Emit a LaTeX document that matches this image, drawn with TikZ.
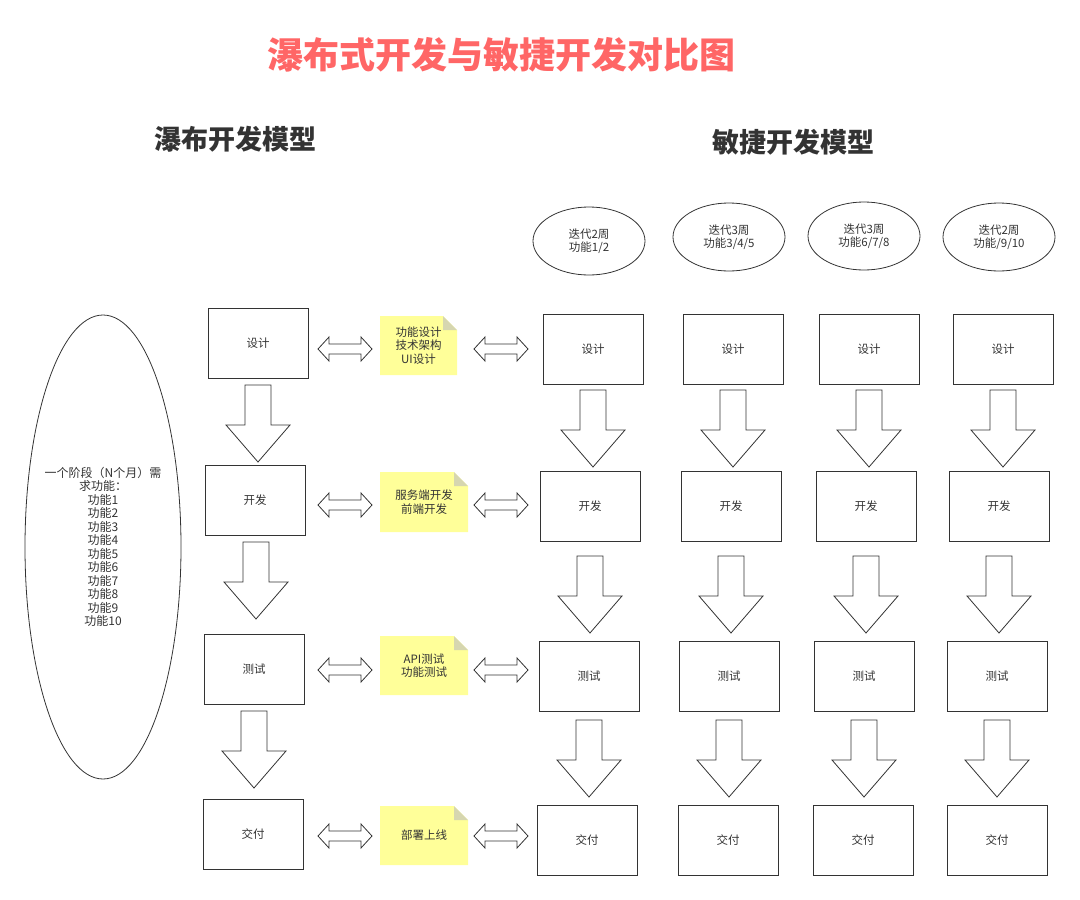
\documentclass[tikz,border=0pt]{standalone}
\usepackage{fontspec}
\setmainfont{Noto Sans CJK SC}
\definecolor{titlered}{HTML}{FF6666}
\definecolor{notefill}{HTML}{FFFF99}
\definecolor{notefold}{HTML}{D6D6B0}
\definecolor{linegray}{HTML}{333333}
\tikzset{
  box/.style={draw=linegray,thick,minimum width=100pt,minimum height=70pt,text=linegray,font=\fontsize{11.5}{13}\selectfont},
  iter/.style={draw=linegray,thick,ellipse,minimum width=112pt,minimum height=68pt,align=center,text=linegray,font=\fontsize{11.5}{13.5}\selectfont},
  notetext/.style={align=center,text=linegray,font=\fontsize{11.5}{13.5}\selectfont},
  pics/downarr/.style={code={
    \draw[linegray,thick,fill=white] (-13,0) -- (13,0) -- (13,40) -- (32,40) -- (0,77) -- (-32,40) -- (-13,40) -- cycle;}},
  pics/dblarr/.style={code={
    \draw[linegray,thick,fill=white] (-27,0) -- (-16,-12) -- (-16,-5) -- (16,-5) -- (16,-12) -- (27,0) -- (16,12) -- (16,5) -- (-16,5) -- (-16,12) -- cycle;}},
}
\usetikzlibrary{shapes.geometric}
\begin{document}
\begin{tikzpicture}[x=1pt,y=-1pt]
\useasboundingbox (0,0) rectangle (1080,900);
% titles
\node[text=titlered,font=\fontsize{36}{40}\selectfont\bfseries] (title) at (501,55) {瀑布式开发与敏捷开发对比图};
\node[text=linegray,font=\fontsize{27}{30}\selectfont\bfseries] (wtitle) at (235,139) {瀑布开发模型};
\node[text=linegray,font=\fontsize{27}{30}\selectfont\bfseries] (atitle) at (793,142) {敏捷开发模型};
% requirement ellipse
\draw[linegray,thick] (103,547) ellipse [x radius=78, y radius=232];
\node[align=center,text=linegray,font=\fontsize{12}{13.5}\selectfont] (req) at (103,547)
  {一个阶段（N个月）需\\求功能：\\功能1\\功能2\\功能3\\功能4\\功能5\\功能6\\功能7\\功能8\\功能9\\功能10};
% waterfall
\foreach \n/\x/\y/\t in {wa/258/343/设计,wb/255/500/开发,wc/254/669/测试,wd/253/834/交付}
  \node[box] (\n) at (\x,\y) {\t};
\foreach \x/\y in {258/385,256/542,254/711}
  \pic at (\x,\y) {downarr};
% notes
\foreach \n/\xa/\ya/\xb/\yb/\t in {na/380/316/457/375/{功能设计\\技术架构\\UI设计},nb/380/472/468/532/{服务端开发\\前端开发},nc/380/636/468/695/{API测试\\功能测试},nd/380/806/468/865/{部署上线}}{
  \fill[notefill] (\xa,\ya) -- (\xb-14,\ya) -- (\xb,\ya+14) -- (\xb,\yb) -- (\xa,\yb) -- cycle;
  \fill[notefold] (\xb-14,\ya) -- (\xb,\ya+14) -- (\xb-14,\ya+14) -- cycle;
  \node[notetext] (\n) at ({(\xa+\xb)/2},{(\ya+\yb)/2}) {\t};
}
\foreach \y in {349,505,670,836}{
  \pic at (345,\y) {dblarr};
  \pic at (501,\y) {dblarr};
}
% agile columns
\foreach \c/\ex/\ey/\it/\xa/\xb/\xc/\xd in {
  1/589/241/{迭代2周\\功能1/2}/593/590/589/587,
  2/729/237/{迭代3周\\功能3/4/5}/733/731/729/728,
  3/864/236/{迭代3周\\功能6/7/8}/869/866/864/863,
  4/999/237/{迭代2周\\功能/9/10}/1003/999/997/997}{
  \node[iter] (it\c) at (\ex,\ey) {\it};
  \node[box] (d\c) at (\xa,349) {设计};
  \node[box] (k\c) at (\xb,506) {开发};
  \node[box] (t\c) at (\xc,676) {测试};
  \node[box] (j\c) at (\xd,840) {交付};
  \pic at (\xa,390) {downarr};
  \pic at (\xb,556) {downarr};
  \pic at (\xc,720) {downarr};
}
\end{tikzpicture}
\end{document}
